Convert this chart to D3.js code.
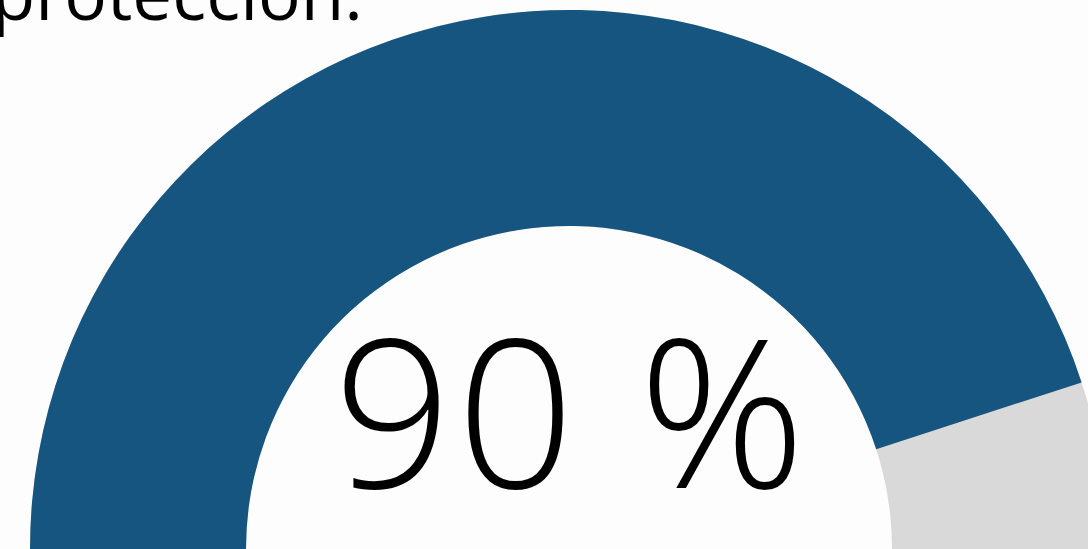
<!DOCTYPE html>
<html>
<head>
<meta charset="utf-8">
<script src="https://cdn.jsdelivr.net/npm/d3@7"></script>
<style>
  html, body { margin: 0; padding: 0; background: #fdfdfd; overflow: hidden; }
</style>
</head>
<body>
<svg id="chart" width="1088" height="549"></svg>
<script>
// Gauge data
const gaugeValue = [90];
const gaugeMax = [100];
const headingLines = ['protección:'];

const width = 1088, height = 549;
const cx = 569, cy = 549;
const outerR = 539, innerR = 323;

const svg = d3.select('#chart');

// Angle scale: 0% at left, 100% at right
const angle = d3.scaleLinear().domain([0, gaugeMax[0]]).range([-Math.PI / 2, Math.PI / 2]);

const arc = d3.arc().innerRadius(innerR).outerRadius(outerR);

const g = svg.append('g').attr('transform', `translate(${cx},${cy})`);

// Background track
g.append('path')
    .attr('d', arc({ startAngle: angle(0), endAngle: angle(gaugeMax[0]) }))
    .attr('fill', '#d9d9d9');

// Value arc
g.append('path')
    .attr('d', arc({ startAngle: angle(0), endAngle: angle(gaugeValue[0]) }))
    .attr('fill', '#15557f');

// Value label
g.append('text')
    .attr('x', 3)
    .attr('y', -61)
    .attr('text-anchor', 'middle')
    .attr('font-family', '"Open Sans", sans-serif')
    .attr('font-weight', 300)
    .attr('font-size', 207)
    .attr('letter-spacing', 5)
    .attr('fill', '#000')
    .text(`${gaugeValue[0]} %`);

// Heading text (last line of a longer paragraph, cut off at top)
svg.append('text')
    .attr('x', 363)
    .attr('y', 20)
    .attr('text-anchor', 'end')
    .attr('font-family', '"Open Sans", sans-serif')
    .attr('font-size', 71)
    .attr('fill', '#000')
    .text(headingLines[0]);
</script>
</body>
</html>
